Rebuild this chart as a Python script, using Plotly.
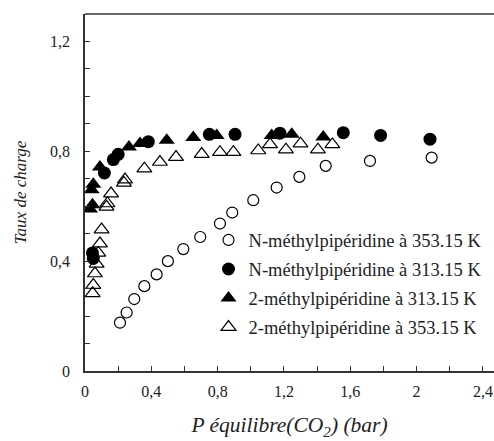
import plotly.graph_objects as go

# N-méthylpipéridine à 353.15 K (open circles)
n353_p = [0.211, 0.251, 0.297, 0.358, 0.432, 0.50, 0.593, 0.695, 0.814, 0.888, 1.015, 1.156, 1.293, 1.452, 1.719, 2.091]
n353_a = [0.176, 0.213, 0.262, 0.309, 0.352, 0.40, 0.444, 0.488, 0.537, 0.577, 0.622, 0.668, 0.707, 0.747, 0.765, 0.777]

# N-méthylpipéridine à 313.15 K (filled circles)
n313_p = [0.045, 0.050, 0.117, 0.171, 0.200, 0.382, 0.750, 0.905, 1.176, 1.558, 1.783, 2.081]
n313_a = [0.430, 0.410, 0.721, 0.770, 0.789, 0.835, 0.862, 0.862, 0.866, 0.868, 0.858, 0.844]

# 2-méthylpipéridine à 313.15 K (filled triangles)
m313_p = [0.030, 0.045, 0.040, 0.050, 0.090, 0.265, 0.332, 0.493, 0.653, 0.794, 1.126, 1.247, 1.437]
m313_a = [0.590, 0.605, 0.660, 0.680, 0.743, 0.816, 0.828, 0.840, 0.850, 0.858, 0.858, 0.862, 0.852]

# 2-méthylpipéridine à 353.15 K (open triangles)
m353_p = [0.046, 0.050, 0.060, 0.070, 0.080, 0.090, 0.100, 0.130, 0.135, 0.157, 0.235, 0.241, 0.358,
          0.452, 0.549, 0.704, 0.814, 0.895, 1.045, 1.116, 1.212, 1.300, 1.405, 1.492]
m353_a = [0.283, 0.313, 0.355, 0.390, 0.430, 0.464, 0.515, 0.598, 0.610, 0.646, 0.685, 0.697, 0.737,
          0.761, 0.779, 0.790, 0.797, 0.797, 0.803, 0.825, 0.806, 0.828, 0.806, 0.825]

series_names = [
    "N-méthylpipéridine à 353.15 K",
    "N-méthylpipéridine à 313.15 K",
    "2-méthylpipéridine à 313.15 K",
    "2-méthylpipéridine à 353.15 K",
]

x_tick_vals = [0, 0.4, 0.8, 1.2, 1.6, 2.0, 2.4]
x_tick_text = ["0", "0,4", "0,8", "1,2", "1,6", "2", "2,4"]
x_minor_vals = [0.2, 0.6, 1.0, 1.4, 1.8, 2.2]
y_tick_vals = [0, 0.4, 0.8, 1.2]
y_tick_text = ["0", "0,4", "0,8", "1,2"]

FONT = "Liberation Serif"
BLACK = "#000000"
AXC = "#333333"

fig = go.Figure()
fig.add_trace(go.Scatter(x=n353_p, y=n353_a, mode="markers", name=series_names[0], legendgroup="a",
                         marker=dict(symbol="circle-open", size=11, color=BLACK, line=dict(width=1.2, color=BLACK))))
fig.add_trace(go.Scatter(x=n313_p, y=n313_a, mode="markers", name=series_names[1], legendgroup="b",
                         marker=dict(symbol="circle", size=13, color=BLACK)))
fig.add_trace(go.Scatter(x=m313_p, y=m313_a, mode="markers", name=series_names[2], legendgroup="c",
                         marker=dict(symbol="triangle-up", size=14, color=BLACK)))
fig.add_trace(go.Scatter(x=m353_p, y=m353_a, mode="markers", name=series_names[3], legendgroup="d",
                         marker=dict(symbol="triangle-up-open", size=13, color=BLACK, line=dict(width=1.2, color=BLACK))))

fig.update_layout(
    width=494, height=441,
    margin=dict(l=85, r=0, t=14, b=70, autoexpand=False),
    paper_bgcolor="white", plot_bgcolor="white",
    font=dict(family=FONT, size=16, color="#222"),
    showlegend=True,
    legend=dict(x=0.302, y=0.419, xanchor="left", yanchor="top",
                bgcolor="rgba(0,0,0,0)", font=dict(size=18.5, family=FONT, color="#222"),
                traceorder="grouped", tracegroupgap=2),
    shapes=[dict(type="line", xref="paper", yref="paper", x0=0, x1=1, y0=1, y1=1,
                 line=dict(color=AXC, width=1.5))],
)
fig.update_xaxes(
    range=[0, 2.467], showgrid=False, zeroline=False, automargin=False,
    showline=True, linecolor=AXC, linewidth=1.5, mirror=False,
    ticks="inside", ticklen=5, tickwidth=1, tickcolor=AXC,
    tickvals=x_tick_vals, ticktext=x_tick_text, ticklabelstandoff=5,
    ticklabeloverflow="allow",
    minor=dict(tickvals=x_minor_vals, ticks="inside", ticklen=5, tickcolor=AXC),
    title=dict(text="P équilibre(CO<sub>2</sub>) (bar)", standoff=18,
               font=dict(size=21.5, family=FONT, style="italic", color="#222")),
)
fig.update_yaxes(
    range=[0, 1.3], showgrid=False, zeroline=False, automargin=False,
    showline=True, linecolor=AXC, linewidth=1.5, mirror=False,
    ticks="inside", ticklen=5, tickwidth=1, tickcolor=AXC,
    tickvals=y_tick_vals, ticktext=y_tick_text, ticklabelstandoff=10,
    minor=dict(dtick=0.1, tick0=0, ticks="inside", ticklen=5, tickcolor=AXC),
    title=dict(text="Taux de charge", standoff=19,
               font=dict(size=17, family=FONT, style="italic", color="#222")),
)

# remove the default page margin so the 494x441 figure fills the window exactly
fig.write_html("out.html",
               config={"displayModeBar": False},
               post_script="document.documentElement.style.overflow='hidden';"
                           "document.body.style.margin='0';document.body.style.overflow='hidden';")
